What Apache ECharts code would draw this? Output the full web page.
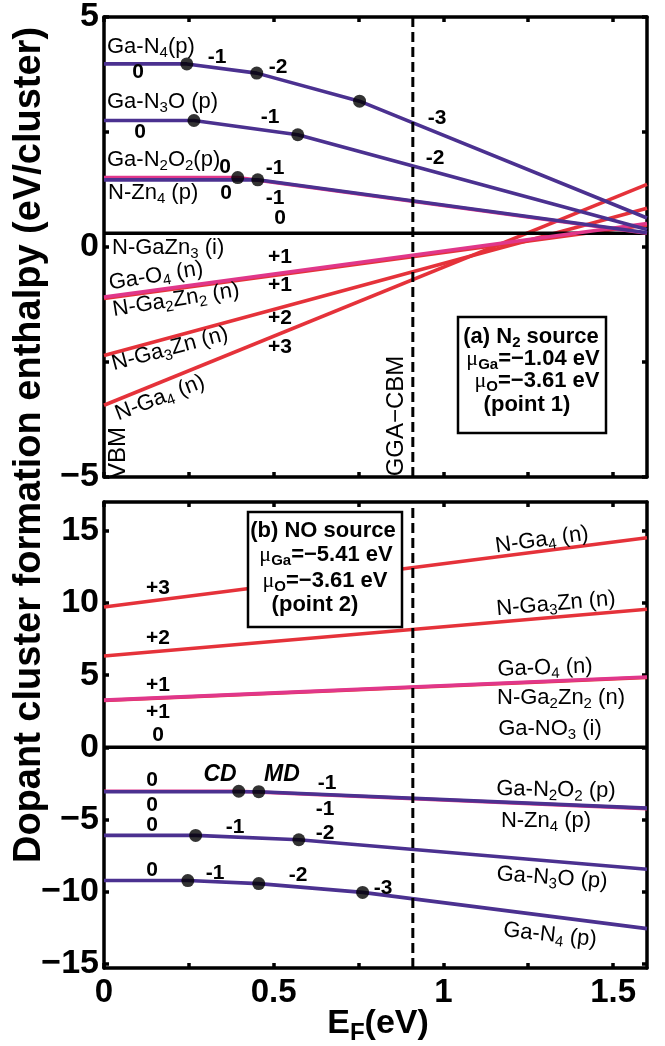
<!DOCTYPE html>
<html>
<head>
<meta charset="utf-8">
<script src="https://cdn.jsdelivr.net/npm/echarts@6/dist/echarts.min.js"></script>
<style>
  html, body { margin: 0; padding: 0; background: #fff; }
  #chart { width: 665px; height: 1046px; }
</style>
</head>
<body>
<div id="chart"></div>
<script>
// Fermi level axis (eV)
const xTicks = [0, 0.25, 0.5, 0.75, 1, 1.25, 1.5];
const xLabels = [0, 0.5, 1, 1.5];
const cbmX = 0.91;

// panel (a): N2 source
const aTicks = [-5, -2.5, 0, 2.5, 5];
const aLabels = [-5, 0, 5];
const aGaN4 = [[0, 3.98], [0.244, 3.98], [0.45, 3.78], [0.753, 3.17], [1.6, 0.63]];
const aGaN3O = [[0, 2.75], [0.265, 2.75], [0.571, 2.44], [1.6, 0.38]];
const aGaN2O2 = [[0, 1.51], [0.394, 1.51], [1.6, 0.30]];
const aNZn4 = [[0, 1.46], [0.453, 1.46], [1.6, 0.31]];
const aNGaZn3 = [[0, 0.3], [1.6, 0.3]];
const aNGa2Zn2 = [[0, -1.12], [1.6, 0.48]];
const aGaO4 = [[0, -1.09], [1.6, 0.51]];
const aNGa3Zn = [[0, -2.36], [1.6, 0.84]];
const aNGa4 = [[0, -3.44], [1.6, 1.36]];

// panel (b): NO source
const bTicks = [-15, -10, -5, 0, 5, 10, 15];
const bNGa4 = [[0, 9.72], [1.6, 14.52]];
const bNGa3Zn = [[0, 6.33], [1.6, 9.57]];
const bNGa2Zn2 = [[0, 3.24], [1.6, 4.84]];
const bGaO4 = [[0, 3.27], [1.6, 4.87]];
const bGaNO3 = [[0, 0], [1.6, 0]];
const bGaN2O2 = [[0, -3.05], [0.397, -3.05], [1.6, -4.25]];
const bNZn4 = [[0, -3.08], [0.456, -3.08], [1.6, -4.22]];
const bGaN3O = [[0, -6.11], [0.27, -6.11], [0.574, -6.41], [1.6, -8.46]];
const bGaN4 = [[0, -9.24], [0.247, -9.24], [0.456, -9.45], [0.762, -10.06], [1.6, -12.57]];

const PURPLE = '#4b3190', RED = '#e5323a', PINK = '#e0378a', BLACK = '#000';
const FONT = '"Liberation Sans", Arial, sans-serif';

const chart = echarts.init(document.getElementById('chart'));

function minus(v) { return v < 0 ? '\u2212' + (-v) : String(v); }

function xAx(grid, pos, labels) {
  return {
    type: 'value', gridIndex: grid, position: pos, min: 0, max: 1.6,
    axisLine: { show: true, onZero: false, lineStyle: { color: BLACK, width: 3.5 } },
    axisTick: { show: true, inside: true, length: 5, customValues: xTicks, lineStyle: { color: BLACK, width: 3.5 } },
    axisLabel: labels ? { show: true, customValues: xLabels, margin: 8, color: BLACK,
      fontFamily: FONT, fontWeight: 'bold', fontSize: 33 } : { show: false },
    splitLine: { show: false }
  };
}
function yAx(grid, pos, min, max, ticks, labels) {
  return {
    type: 'value', gridIndex: grid, position: pos, min: min, max: max,
    axisLine: { show: true, onZero: false, lineStyle: { color: BLACK, width: 3.5 } },
    axisTick: { show: true, inside: true, length: 5, customValues: ticks, lineStyle: { color: BLACK, width: 3.5 } },
    axisLabel: labels ? { show: true, customValues: labels, margin: 5, color: BLACK, formatter: minus,
      fontFamily: FONT, fontWeight: 'bold', fontSize: 34 } : { show: false },
    splitLine: { show: false }
  };
}
function line(data, color, xi, yi, z) {
  return { type: 'line', data: data, xAxisIndex: xi, yAxisIndex: yi, symbol: 'none',
    lineStyle: { color: color, width: 3.6 }, z: z || 2, silent: true, animation: false };
}
function dashed(xi, yi, lo, hi) {
  return { type: 'line', data: [[cbmX, lo], [cbmX, hi]], xAxisIndex: xi, yAxisIndex: yi, symbol: 'none',
    lineStyle: { color: BLACK, width: 3, type: [10, 5] }, z: 5, silent: true, animation: false };
}
function dots(list, xi, yi) {
  return { type: 'scatter', data: list.flatMap(s => s.slice(1, -1)), xAxisIndex: xi, yAxisIndex: yi,
    symbol: 'circle', symbolSize: 13, itemStyle: { color: BLACK }, z: 6, silent: true, animation: false };
}

// text annotations
const BASE = {
  lab: { fontFamily: FONT, fontSize: 22, fontWeight: 'normal' },
  chg: { fontFamily: FONT, fontSize: 21, fontWeight: 'bold' },
  box: { fontFamily: FONT, fontSize: 22, fontWeight: 'bold' },
  it: { fontFamily: FONT, fontSize: 23, fontWeight: 'bold', fontStyle: 'italic' },
  vert: { fontFamily: FONT, fontSize: 24, fontWeight: 'normal' },
  title: { fontFamily: FONT, fontSize: 38, fontWeight: 'bold' },
  axname: { fontFamily: FONT, fontSize: 34, fontWeight: 'bold' }
};
function richFor(b) {
  const fs = b.fontSize;
  return {
    s: Object.assign({}, b, { fontSize: Math.round(fs * 0.7), padding: [Math.round(fs * 0.55), 0, 0, 0] }),
    m: Object.assign({}, b, { fontFamily: '"Liberation Serif", serif', fontWeight: 'normal' })
  };
}
function T(text, x, y, kind, rot, align) {
  const b = BASE[kind];
  return {
    type: 'text', x: x, y: y, rotation: (rot || 0) * Math.PI / 180, z: 30,
    style: Object.assign({ text: text, fill: BLACK, align: align || 'center', verticalAlign: 'middle', rich: richFor(b) }, b)
  };
}

const texts = [
  // panel (a) labels
  ['Ga-N{s|4}(p)', 107, 47, 'lab', 0, 'left'],
  ['Ga-N{s|3}O (p)', 107, 102, 'lab', 0, 'left'],
  ['Ga-N{s|2}O{s|2}(p)', 107, 160, 'lab', 0, 'left'],
  ['N-Zn{s|4} (p)', 108, 193, 'lab', 0, 'left'],
  ['N-GaZn{s|3} (i)', 112, 248, 'lab', 0, 'left'],
  ['Ga-O{s|4} (n)', 156, 276, 'lab', 9],
  ['N-Ga{s|2}Zn{s|2} (n)', 176, 300, 'lab', 9],
  ['N-Ga{s|3}Zn (n)', 170, 349, 'lab', 15],
  ['N-Ga{s|4} (n)', 160, 398, 'lab', 21],
  ['VBM', 118, 453, 'vert', 90],
  ['GGA\u2212CBM', 396, 416, 'vert', 90],
  ['-1', 217, 57, 'chg'], ['0', 138, 72, 'chg'], ['-2', 278, 67, 'chg'],
  ['0', 140, 132, 'chg'], ['-1', 270, 117, 'chg'],
  ['0', 225, 167, 'chg'], ['0', 226, 193, 'chg'], ['-1', 275, 168, 'chg'], ['-1', 275, 198, 'chg'],
  ['0', 280, 218, 'chg'], ['-3', 437, 118, 'chg'], ['-2', 435, 158, 'chg'],
  ['+1', 280, 257, 'chg'], ['+1', 280, 285, 'chg'], ['+2', 280, 318, 'chg'], ['+3', 280, 347, 'chg'],
  ['(a) N{s|2} source', 531, 337, 'box'],
  ['{m|\u03bc}{s|Ga}=\u22121.04 eV', 533, 359, 'box'],
  ['{m|\u03bc}{s|O}=\u22123.61 eV', 537, 381, 'box'],
  ['(point 1)', 527, 405, 'box'],
  // panel (b) labels
  ['N-Ga{s|4} (n)', 542, 540, 'lab', 8],
  ['N-Ga{s|3}Zn (n)', 556, 604, 'lab', 5],
  ['Ga-O{s|4} (n)', 545, 668, 'lab', 2],
  ['N-Ga{s|2}Zn{s|2} (n)', 561, 698, 'lab', 0],
  ['Ga-NO{s|3} (i)', 550, 729, 'lab', 0],
  ['Ga-N{s|2}O{s|2} (p)', 556, 790, 'lab', -1],
  ['N-Zn{s|4} (p)', 546, 821, 'lab', 0],
  ['Ga-N{s|3}O (p)', 552, 878, 'lab', -4],
  ['Ga-N{s|4} (p)', 550, 935, 'lab', -6],
  ['+3', 158, 588, 'chg'], ['+2', 158, 638, 'chg'], ['+1', 158, 685, 'chg'], ['+1', 158, 712, 'chg'], ['0', 158, 735, 'chg'],
  ['0', 152, 780, 'chg'], ['-1', 327, 783, 'chg'],
  ['0', 152, 805, 'chg'], ['-1', 325, 809, 'chg'],
  ['0', 152, 825, 'chg'], ['-1', 235, 827, 'chg'], ['-2', 325, 833, 'chg'],
  ['0', 152, 870, 'chg'], ['-1', 215, 873, 'chg'], ['-2', 298, 875, 'chg'], ['-3', 383, 888, 'chg'],
  ['CD', 220, 775, 'it'], ['MD', 282, 775, 'it'],
  ['(b) NO source', 323, 531, 'box'],
  ['{m|\u03bc}{s|Ga}=\u22125.41 eV', 326, 555, 'box'],
  ['{m|\u03bc}{s|O}=\u22123.61 eV', 325, 581, 'box'],
  ['(point 2)', 315, 605, 'box'],
  // axis titles
  ['Dopant cluster formation enthalpy (eV/cluster)', 30, 445, 'title', 90],
  ['E{s|F}(eV)', 378, 1024, 'axname']
];

const graphic = [
  { type: 'rect', z: 25, shape: { x: 458, y: 317, width: 148, height: 116 },
    style: { fill: '#fff', stroke: BLACK, lineWidth: 2.5 } },
  { type: 'rect', z: 25, shape: { x: 248, y: 512, width: 154, height: 115 },
    style: { fill: '#fff', stroke: BLACK, lineWidth: 2.5 } }
].concat(texts.map(t => T(t[0], t[1], t[2], t[3], t[4], t[5])));

const option = {
  animation: false,
  backgroundColor: '#fff',
  grid: [
    { left: 104, top: 15, width: 543, height: 462 },
    { left: 104, top: 502, width: 543, height: 466 }
  ],
  xAxis: [xAx(0, 'bottom', false), xAx(0, 'top', false), xAx(1, 'bottom', true), xAx(1, 'top', false)],
  yAxis: [
    yAx(0, 'left', -5, 5, aTicks, aLabels), yAx(0, 'right', -5, 5, aTicks, null),
    yAx(1, 'left', -15.3, 17, bTicks, bTicks), yAx(1, 'right', -15.3, 17, bTicks, null)
  ],
  series: [
    dashed(0, 0, -5, 5),
    line(aNGaZn3, BLACK, 0, 0, 3),
    line(aNGa2Zn2, RED, 0, 0, 2),
    line(aGaO4, PINK, 0, 0, 3),
    line(aNGa3Zn, RED, 0, 0, 2),
    line(aNGa4, RED, 0, 0, 2),
    line(aGaN2O2, PINK, 0, 0, 3),
    line(aNZn4, PURPLE, 0, 0, 4),
    line(aGaN3O, PURPLE, 0, 0, 4),
    line(aGaN4, PURPLE, 0, 0, 4),
    dots([aGaN4, aGaN3O, aGaN2O2, aNZn4], 0, 0),

    dashed(2, 2, -15.3, 17),
    line(bGaNO3, BLACK, 2, 2, 3),
    line(bNGa4, RED, 2, 2, 2),
    line(bNGa3Zn, RED, 2, 2, 2),
    line(bNGa2Zn2, RED, 2, 2, 2),
    line(bGaO4, PINK, 2, 2, 3),
    line(bGaN2O2, PINK, 2, 2, 3),
    line(bNZn4, PURPLE, 2, 2, 4),
    line(bGaN3O, PURPLE, 2, 2, 4),
    line(bGaN4, PURPLE, 2, 2, 4),
    dots([bGaN4, bGaN3O, bGaN2O2, bNZn4], 2, 2)
  ],
  graphic: graphic
};
chart.setOption(option);
</script>
</body>
</html>
